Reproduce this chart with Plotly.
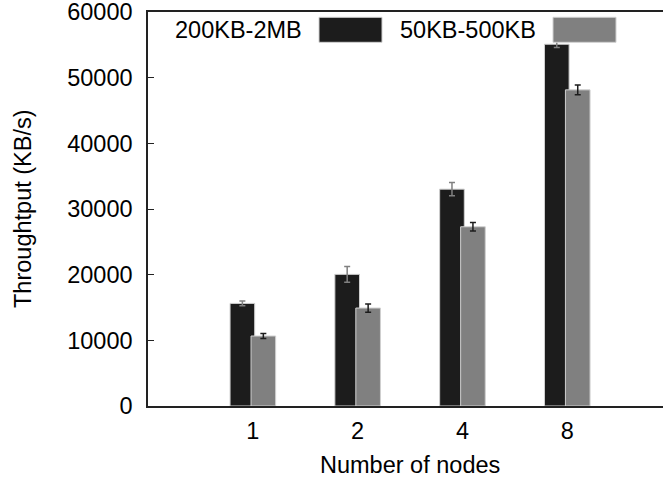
import plotly.graph_objects as go

categories = ["1", "2", "4", "8"]
series_names = ["200KB-2MB", "50KB-500KB"]
large_vals = [15630, 20050, 33030, 55100]
large_err = [350, 1190, 1010, 500]
small_vals = [10660, 14920, 27300, 48150]
small_err = [380, 630, 630, 760]

W, H = 663, 479
L, R, T, B = 148, 0, 12, 73
pw, ph = W - L - R, H - T - B

def px(x):
    return (x - L) / pw

def py(y):
    return (T + ph - y) / ph

FONT = "Liberation Sans, Arial, sans-serif"
FS = 23.5
BLACK = "#1c1c1c"
GRAY = "#808080"

xs = list(range(len(categories)))

fig = go.Figure()
fig.add_trace(go.Bar(
    x=xs, y=large_vals, name=series_names[0],
    width=0.235, offset=-0.217,
    marker=dict(color=BLACK, line=dict(color="#d0d0d0", width=1)),
    error_y=dict(type="data", array=large_err, color=GRAY, thickness=1.5, width=3),
    showlegend=False,
))
fig.add_trace(go.Bar(
    x=xs, y=small_vals, name=series_names[1],
    width=0.235, offset=-0.017,
    marker=dict(color=GRAY, line=dict(color="#d0d0d0", width=1)),
    error_y=dict(type="data", array=small_err, color=BLACK, thickness=1.5, width=3),
    showlegend=False,
))

shapes = []
annotations = []
# custom legend: label then swatch on the right
leg = [
    (series_names[0], 304, 319, 382, BLACK),
    (series_names[1], 538, 553, 616, GRAY),
]
for name, tx, x0, x1, col in leg:
    annotations.append(dict(
        text=name, xref="paper", yref="paper", x=px(tx), y=py(30),
        xanchor="right", yanchor="middle", showarrow=False,
        font=dict(family=FONT, size=FS, color="black"),
    ))
    shapes.append(dict(
        type="rect", xref="paper", yref="paper",
        x0=px(x0), x1=px(x1), y0=py(42.3), y1=py(17.3),
        fillcolor=col, line=dict(color="#d0d0d0", width=1),
    ))

annotations.append(dict(
    text="Throughtput (KB/s)", xref="paper", yref="paper",
    x=px(23), y=0.5, textangle=-90, showarrow=False,
    xanchor="center", yanchor="middle",
    font=dict(family=FONT, size=FS, color="black"),
))
annotations.append(dict(
    text="Number of nodes", xref="paper", yref="paper",
    x=px(410), y=py(465), showarrow=False,
    xanchor="center", yanchor="middle",
    font=dict(family=FONT, size=FS, color="black"),
))

fig.update_layout(
    width=W, height=H,
    margin=dict(l=L, r=R, t=T, b=B, pad=0, autoexpand=False),
    paper_bgcolor="white", plot_bgcolor="white",
    barmode="overlay",
    hovermode=False,
    font=dict(family=FONT, size=FS, color="black"),
    shapes=shapes, annotations=annotations,
    xaxis=dict(
        tickmode="array", tickvals=xs, ticktext=categories,
        range=[-1, 3.914], showgrid=False, zeroline=False,
        showline=True, linecolor="#222", linewidth=1.5, mirror=True,
        ticks="", ticklabelstandoff=3, automargin=False,
    ),
    yaxis=dict(
        range=[0, 60010], tickmode="array",
        tickvals=[0, 10000, 20000, 30000, 40000, 50000, 60000],
        tickformat="d", showgrid=False, zeroline=False,
        showline=True, linecolor="#222", linewidth=1.5, mirror=False,
        ticks="inside", ticklen=6, tickcolor="#222", tickwidth=1,
        ticklabelstandoff=9, automargin=False, ticklabeloverflow="allow",
    ),
)

fig.write_html(
    "out.html",
    config={"displayModeBar": False},
    post_script="document.body.style.margin='0';document.body.style.overflow='hidden';",
)
